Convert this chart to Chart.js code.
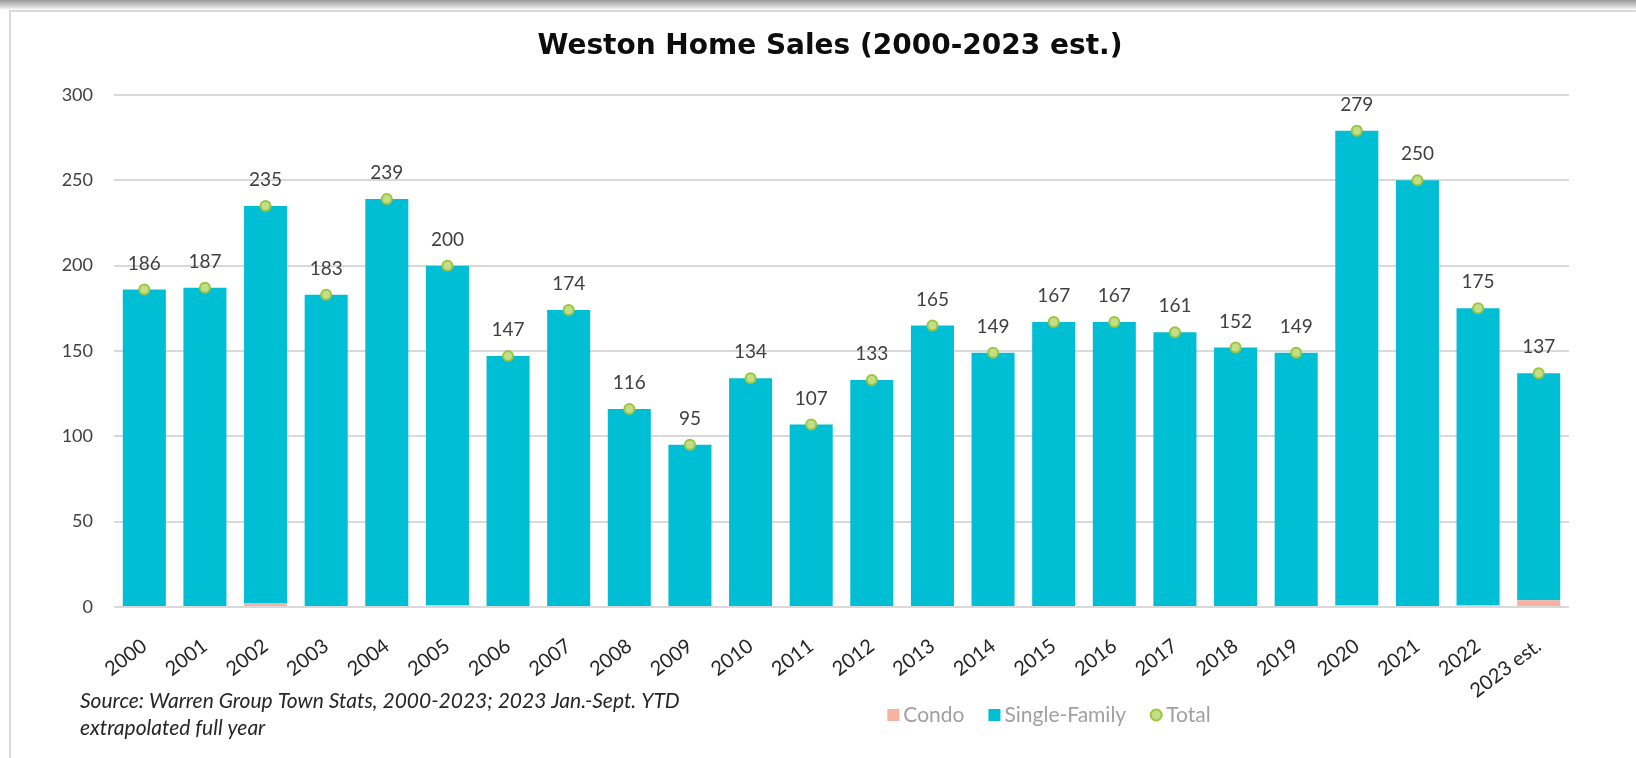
<!DOCTYPE html>
<html>
<head>
<meta charset="utf-8">
<script src="https://cdn.jsdelivr.net/npm/chart.js@4.4.1/dist/chart.umd.min.js"></script>
<style>
  html, body { margin: 0; padding: 0; background: #fff; }
  #page { position: relative; width: 1636px; height: 758px; overflow: hidden;
          background: linear-gradient(to bottom, #9a9a9a 0px, #e6e6e6 8px, #ffffff 10px); }
  #frame { position: absolute; left: 9px; top: 10px; right: -4px; bottom: -4px;
           background: #fff; border-left: 2px solid #dadada; border-top: 2px solid #dadada; }
  #chart { position: absolute; left: 0; top: 0; }
</style>
</head>
<body>
<div id="page">
  <div id="frame"></div>
  <canvas id="chart" width="1636" height="758"></canvas>
</div>
<script>
// --- Data ---
const years = ['2000', '2001', '2002', '2003', '2004', '2005', '2006', '2007', '2008', '2009', '2010', '2011',
               '2012', '2013', '2014', '2015', '2016', '2017', '2018', '2019', '2020', '2021', '2022', '2023 est.'];
const condo = [0, 0, 2, 0, 0, 1, 0, 0, 0, 0, 0, 0, 0, 0, 0, 0, 0, 0, 0, 0, 1, 0, 1, 4];
const singleFamily = [186, 187, 233, 183, 239, 199, 147, 174, 116, 95, 134, 107,
                      133, 165, 149, 167, 167, 161, 152, 149, 278, 250, 174, 133];
const total = [186, 187, 235, 183, 239, 200, 147, 174, 116, 95, 134, 107,
               133, 165, 149, 167, 167, 161, 152, 149, 279, 250, 175, 137];
const yTicks = [0, 50, 100, 150, 200, 250, 300];

const chartTitle = 'Weston Home Sales (2000-2023 est.)';
const sourceLines = ['Source: Warren Group Town Stats, 2000-2023; 2023 Jan.-Sept. YTD', 'extrapolated full year'];

const FONT = 'Lato, "Noto Sans", sans-serif';
const CONDO_COLOR = '#F9B1A1';
const SF_COLOR = '#00BFD4';
const TOTAL_FILL = '#C3DE88';
const TOTAL_BORDER = '#9CC43F';

// --- Label angka di atas titik Total ---
const totalLabels = {
    id: 'totalLabels',
    afterDatasetsDraw(chart) {
        const ctx = chart.ctx;
        const meta = chart.getDatasetMeta(2);
        ctx.save();
        ctx.font = '19px ' + FONT;
        ctx.fillStyle = '#404040';
        ctx.textAlign = 'center';
        ctx.textBaseline = 'middle';
        meta.data.forEach((pt, i) => {
            ctx.fillText(String(total[i]), pt.x, pt.y - 26);
        });
        ctx.restore();
    }
};

// --- Judul, legend dan catatan sumber ---
const decorations = {
    id: 'decorations',
    afterDraw(chart) {
        const ctx = chart.ctx;
        ctx.save();

        // judul (sedikit ke kanan dari tengah, seperti aslinya)
        ctx.font = 'bold 28px "DejaVu Sans", "Open Sans", sans-serif';
        ctx.fillStyle = '#0d0d0d';
        ctx.textAlign = 'center';
        ctx.textBaseline = 'middle';
        ctx.fillText(chartTitle, 830, 47);

        // sumber
        ctx.font = 'italic 21px ' + FONT;
        ctx.fillStyle = '#262626';
        ctx.textAlign = 'left';
        ctx.textBaseline = 'alphabetic';
        ctx.fillText(sourceLines[0], 80, 708);
        ctx.fillText(sourceLines[1], 80, 735);

        // legend
        const ds = chart.data.datasets;
        ctx.font = '21px ' + FONT;
        ctx.textBaseline = 'middle';
        const cy = 715;
        const box = 12, gap = 4, itemGap = 24;
        const widths = ds.map(d => box + gap + ctx.measureText(d.label).width);
        const totalW = widths.reduce((a, b) => a + b, 0) + itemGap * (ds.length - 1);
        let x = 1049 - totalW / 2;
        ds.forEach((d, i) => {
            if (d.type === 'line') {
                ctx.beginPath();
                ctx.arc(x + box / 2, cy, 5.5, 0, Math.PI * 2);
                ctx.fillStyle = d.pointBackgroundColor;
                ctx.fill();
                ctx.lineWidth = 2;
                ctx.strokeStyle = d.pointBorderColor;
                ctx.stroke();
            } else {
                ctx.fillStyle = d.backgroundColor;
                ctx.fillRect(x, cy - box / 2, box, box);
            }
            ctx.fillStyle = '#a0a0a0';
            ctx.fillText(d.label, x + box + gap, cy);
            x += widths[i] + itemGap;
        });
        ctx.restore();
    }
};

const ctx = document.getElementById('chart').getContext('2d');

new Chart(ctx, {
    type: 'bar',
    data: {
        labels: years,
        datasets: [
            {
                label: 'Condo',
                data: condo,
                backgroundColor: CONDO_COLOR,
                stack: 'sales',
                order: 2
            },
            {
                label: 'Single-Family',
                data: singleFamily,
                backgroundColor: SF_COLOR,
                stack: 'sales',
                order: 2
            },
            {
                label: 'Total',
                type: 'line',
                data: total,
                showLine: false,
                stack: 'total',
                pointRadius: 5,
                pointBorderWidth: 2,
                pointBackgroundColor: TOTAL_FILL,
                pointBorderColor: TOTAL_BORDER,
                order: 1
            }
        ]
    },
    options: {
        responsive: false,
        animation: false,
        layout: { padding: { left: 10, right: 67, top: 95, bottom: 51 } },
        datasets: {
            bar: { categoryPercentage: 1, barPercentage: 0.71 }
        },
        plugins: {
            legend: { display: false },
            tooltip: { enabled: false },
            title: { display: false }
        },
        scales: {
            x: {
                stacked: true,
                grid: { display: false },
                border: { display: false },
                ticks: {
                    autoSkip: false,
                    minRotation: 37,
                    maxRotation: 37,
                    padding: 19,
                    color: '#262626',
                    font: { family: FONT, size: 20 }
                },
                afterFit(scale) { scale.height = 100; }
            },
            y: {
                stacked: true,
                min: 0,
                max: 300,
                grid: { color: '#d9d9d9', lineWidth: 2, drawTicks: false },
                border: { display: false },
                afterBuildTicks(scale) { scale.ticks = yTicks.map(v => ({ value: v })); },
                ticks: {
                    padding: 21,
                    color: '#404040',
                    font: { family: FONT, size: 18 }
                },
                afterFit(scale) { scale.width = 104; }
            }
        }
    },
    plugins: [totalLabels, decorations]
});
</script>
</body>
</html>
